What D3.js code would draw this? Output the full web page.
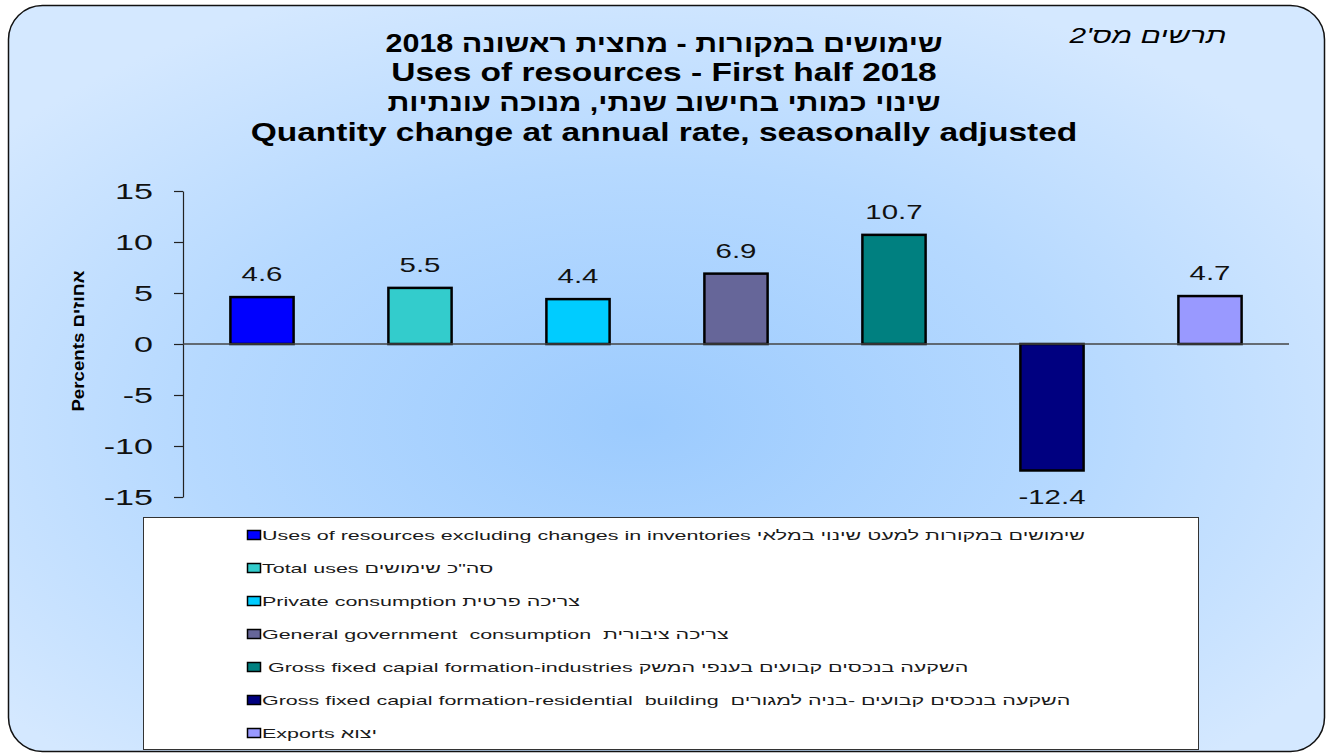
<!DOCTYPE html>
<html>
<head>
<meta charset="utf-8">
<script src="https://cdn.jsdelivr.net/npm/d3@7"></script>
<style>
  body { margin: 0; background: #fff; }
  svg { display: block; font-family: 'Liberation Sans', Arial, sans-serif; }
  .legend-text { white-space: pre; }
</style>
</head>
<body>
<svg id="chart" width="1330" height="756"></svg>
<script>
const categories = [
  'Uses of resources excluding changes in inventories שימושים במקורות למעט שינוי במלאי',
  'Total uses סה"כ שימושים',
  'Private consumption צריכה פרטית',
  'General government  consumption  צריכה ציבורית',
  ' Gross fixed capial formation-industries השקעה בנכסים קבועים בענפי המשק',
  'Gross fixed capial formation-residential  building  השקעה בנכסים קבועים -בניה למגורים',
  'Exports יצוא',
]
const values = [4.6, 5.5, 4.4, 6.9, 10.7, -12.4, 4.7]
const barColors = ['#0000ff', '#33cccc', '#00ccff', '#666699', '#008080', '#000080', '#9999ff']
const yTicks = [-15, -10, -5, 0, 5, 10, 15]
const titleLines = [
  'שימושים במקורות - מחצית ראשונה 2018',
  'Uses of resources - First half 2018',
  'שינוי כמותי בחישוב שנתי, מנוכה עונתיות',
  'Quantity change at annual rate, seasonally adjusted',
]
const chartNumber = "תרשים מס'2"
const yLabel = 'Percents אחוזים'

const isHebrew = s => /^[\u0590-\u05FF]/.test(s.trim())

// the original picture is stretched sideways, so widen each text by a factor
function stretch(selection, k, adjust = 'spacingAndGlyphs') {
  selection.each(function() {
    const kk = typeof k === 'function' ? k(d3.select(this).datum()) : k
    const w = this.getComputedTextLength()
    d3.select(this).attr('textLength', w * kk).attr('lengthAdjust', adjust)
  })
}

const svg = d3.select('#chart')
const defs = svg.append('defs')

const grad = defs
  .append('radialGradient')
  .attr('id', 'bg')
  .attr('cx', 0.48)
  .attr('cy', 0.56)
  .attr('r', 0.62)
grad.append('stop').attr('offset', 0).attr('stop-color', '#9ccbfe')
grad.append('stop').attr('offset', 0.55).attr('stop-color', '#b6d9ff')
grad.append('stop').attr('offset', 1).attr('stop-color', '#d4e8ff')

svg
  .append('rect')
  .attr('x', 8.5)
  .attr('y', 5.5)
  .attr('width', 1316)
  .attr('height', 746)
  .attr('rx', 34)
  .attr('fill', 'url(#bg)')
  .attr('stroke', '#111')
  .attr('stroke-width', 1.5)

// titles
svg
  .append('g')
  .selectAll('text')
  .data(titleLines)
  .join('text')
  .attr('x', 664)
  .attr('y', (d, i) => 51.5 + i * 29.8)
  .attr('text-anchor', 'middle')
  .attr('direction', d => (isHebrew(d) ? 'rtl' : 'ltr'))
  .attr('font-size', 25)
  .attr('font-weight', 'bold')
  .attr('fill', '#000')
  .text(d => d)
  .call(stretch, d => (isHebrew(d) ? 1.22 : 1.34))

svg
  .append('text')
  .attr('x', 1148)
  .attr('y', 43)
  .attr('text-anchor', 'middle')
  .attr('direction', 'rtl')
  .attr('font-size', 22)
  .attr('font-style', 'italic')
  .attr('fill', '#000')
  .text(chartNumber)
  .call(stretch, 1.36)

// scales
const x = d3
  .scaleBand()
  .domain(categories)
  .range([183, 1289])
  .paddingInner(0.6)
  .paddingOuter(0.3)

const y = d3.scaleLinear().domain([-15, 15]).range([497, 191])

// y axis
const yAxis = svg
  .append('g')
  .attr('transform', 'translate(183,0)')
  .call(
    d3
      .axisLeft(y)
      .tickValues(yTicks)
      .tickFormat(d => String(d))
      .tickSize(9)
      .tickSizeOuter(0)
      .tickPadding(21),
  )
yAxis.select('.domain').attr('stroke', '#222').attr('stroke-width', 1.2)
yAxis.selectAll('.tick line').attr('stroke', '#222').attr('stroke-width', 1.2)
yAxis
  .selectAll('.tick text')
  .attr('font-size', 22)
  .attr('font-family', "'Liberation Sans', Arial, sans-serif")
  .attr('fill', '#111')
  .call(stretch, 1.55)

svg
  .append('text')
  .attr('transform', 'translate(84,341) rotate(-90)')
  .attr('text-anchor', 'middle')
  .attr('font-size', 17)
  .attr('font-weight', 'bold')
  .attr('fill', '#000')
  .text(yLabel)
  .call(stretch, 1.1)

// bars
svg
  .append('g')
  .selectAll('rect')
  .data(values)
  .join('rect')
  .attr('x', (d, i) => x(categories[i]))
  .attr('width', x.bandwidth())
  .attr('y', d => y(Math.max(0, d)))
  .attr('height', d => Math.abs(y(d) - y(0)))
  .attr('fill', (d, i) => barColors[i])
  .attr('stroke', '#000')
  .attr('stroke-width', 2.5)

// zero line
svg
  .append('line')
  .attr('x1', 183)
  .attr('x2', 1289)
  .attr('y1', y(0))
  .attr('y2', y(0))
  .attr('stroke', '#444')
  .attr('stroke-width', 1.5)

// value labels
svg
  .append('g')
  .selectAll('text')
  .data(values)
  .join('text')
  .attr('x', (d, i) => x(categories[i]) + x.bandwidth() / 2)
  .attr('y', d => (d >= 0 ? y(d) - 16 : y(d) + 34))
  .attr('text-anchor', 'middle')
  .attr('font-size', 21)
  .attr('fill', '#111')
  .text(d => d.toFixed(1))
  .call(stretch, 1.4)

// legend
const legend = svg.append('g')
legend
  .append('rect')
  .attr('x', 143.5)
  .attr('y', 517.5)
  .attr('width', 1055)
  .attr('height', 232)
  .attr('fill', '#fff')
  .attr('stroke', '#333')
  .attr('stroke-width', 1)

const items = legend
  .selectAll('g.item')
  .data(categories)
  .join('g')
  .attr('class', 'item')
  .attr('transform', (d, i) => `translate(247,${535 + i * 33})`)

items
  .append('rect')
  .attr('x', 0.5)
  .attr('y', -4.5)
  .attr('width', 13)
  .attr('height', 9)
  .attr('fill', (d, i) => barColors[i])
  .attr('stroke', '#000')
  .attr('stroke-width', 1.5)

items
  .append('text')
  .attr('class', 'legend-text')
  .attr('x', 15)
  .attr('y', 5)
  .attr('font-size', 13)
  .attr('fill', '#1a1a1a')
  .text(d => d)
  .call(stretch, 1.65)
</script>
</body>
</html>
